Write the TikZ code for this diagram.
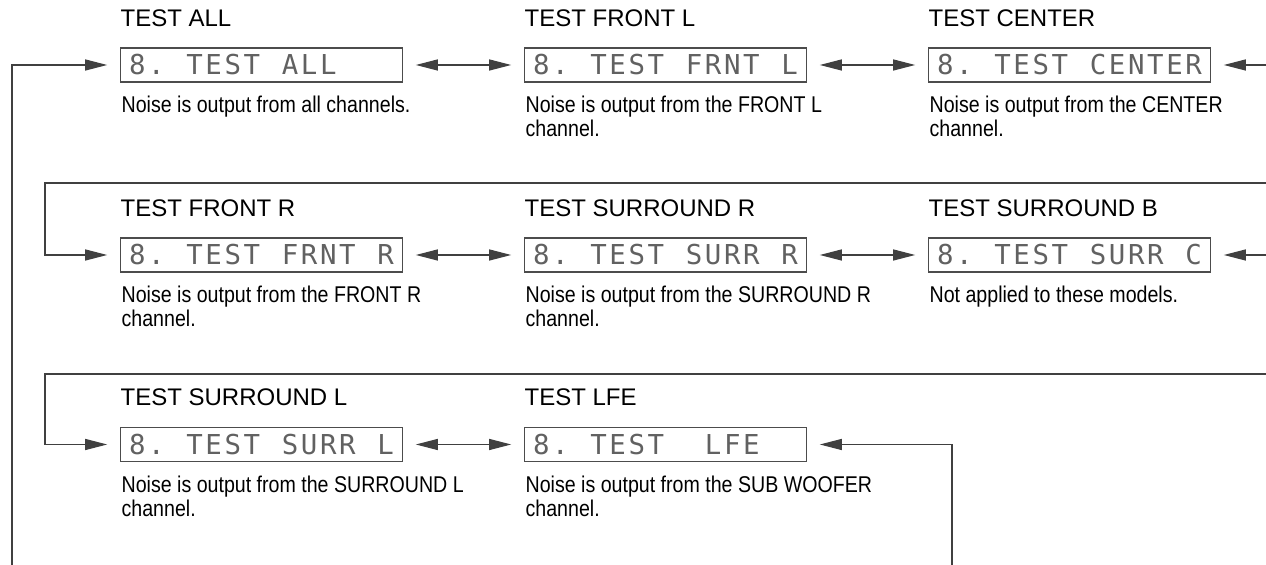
\documentclass[tikz,border=0pt]{standalone}
\usepackage{fontspec}
\setmainfont{Liberation Sans}
\newfontfamily\descfont[FakeStretch=0.86]{Liberation Sans}
\newfontfamily\lcdfont{DejaVu Sans Mono}
\usetikzlibrary{arrows.meta, calc, positioning}

\newlength\lcdpitch
\setlength\lcdpitch{9.55pt}
\makeatletter
\newcommand\lcd[1]{\lcd@next#1\@nil}
\def\lcd@next#1{\ifx#1\@nil\else\makebox[\lcdpitch][c]{\ifx#1*\else#1\fi}\expandafter\lcd@next\fi}
\makeatother

\tikzset{
  lcdbox/.style={draw=black!70, line width=0.6pt, minimum width=140.5pt, minimum height=17pt,
    inner xsep=3.5pt, inner ysep=0pt, text=black!62, font=\lcdfont\fontsize{13.7}{14}\selectfont},
  heading/.style={anchor=base west, inner sep=0pt, font=\fontsize{12}{14}\selectfont},
  note/.style={anchor=north west, inner sep=0pt, align=left, font=\descfont\fontsize{11.4}{12}\selectfont},
  link/.style={draw=black!75, line width=0.6pt, -{Triangle[length=11pt, width=5.5pt]}, shorten >=6.5pt},
  twoway/.style={link, {Triangle[length=11pt, width=5.5pt]}-{Triangle[length=11pt, width=5.5pt]}, shorten <=6.5pt}
}

\begin{document}
\begin{tikzpicture}[x=0.5pt, y=-0.5pt]
\useasboundingbox (0,0) rectangle (1266,565);

% displays
\node (b1)[lcdbox] at (261.5,65) {\lcd{8.*TEST*ALL***}};
\node (b2)[lcdbox] at (665.5,65) {\lcd{8.*TEST*FRNT*L}};
\node (b3)[lcdbox] at (1069.5,65) {\lcd{8.*TEST*CENTER}};
\node (b4)[lcdbox] at (261.5,255) {\lcd{8.*TEST*FRNT*R}};
\node (b5)[lcdbox] at (665.5,255) {\lcd{8.*TEST*SURR*R}};
\node (b6)[lcdbox] at (1069.5,255) {\lcd{8.*TEST*SURR*C}};
\node (b7)[lcdbox] at (261.5,444.5) {\lcd{8.*TEST*SURR*L}};
\node (b8)[lcdbox] at (665.5,444.5) {\lcd{8.*TEST**LFE**}};

% headings
\node (h1)[heading] at ($(b1.north west)+(0,-21)$) {TEST ALL};
\node (h2)[heading] at ($(b2.north west)+(0,-21)$) {TEST FRONT L};
\node (h3)[heading] at ($(b3.north west)+(0,-21)$) {TEST CENTER};
\node (h4)[heading] at ($(b4.north west)+(0,-21)$) {TEST FRONT R};
\node (h5)[heading] at ($(b5.north west)+(0,-21)$) {TEST SURROUND R};
\node (h6)[heading] at ($(b6.north west)+(0,-21)$) {TEST SURROUND B};
\node (h7)[heading] at ($(b7.north west)+(0,-21)$) {TEST SURROUND L};
\node (h8)[heading] at ($(b8.north west)+(0,-21)$) {TEST LFE};

% notes
\node (n1)[note] at ($(b1.south west)+(1,13)$) {Noise is output from all channels.};
\node (n2)[note] at ($(b2.south west)+(1,13)$) {Noise is output from the FRONT L\\channel.};
\node (n3)[note] at ($(b3.south west)+(1,13)$) {Noise is output from the CENTER\\channel.};
\node (n4)[note] at ($(b4.south west)+(1,13)$) {Noise is output from the FRONT R\\channel.};
\node (n5)[note] at ($(b5.south west)+(1,13)$) {Noise is output from the SURROUND R\\channel.};
\node (n6)[note] at ($(b6.south west)+(1,13)$) {Not applied to these models.};
\node (n7)[note] at ($(b7.south west)+(1,13)$) {Noise is output from the SURROUND L\\channel.};
\node (n8)[note] at ($(b8.south west)+(1,13)$) {Noise is output from the SUB WOOFER\\channel.};

\coordinate (r1) at (1266,65);
\coordinate (r2) at (1266,255);
\coordinate (w1) at (1266,183);
\coordinate (w2) at (1266,374);
\coordinate (k1) at (45,183);
\coordinate (k2) at (45,374);
\coordinate (ret1) at (12,565);
\coordinate (ret2) at (952,565);

\draw[twoway] (b1) -- (b2);
\draw[twoway] (b2) -- (b3);
\draw[twoway] (b4) -- (b5);
\draw[twoway] (b5) -- (b6);
\draw[twoway] (b7) -- (b8);

\draw[link] (r1) -- (b3);
\draw[link] (r2) -- (b6);
\draw[link] (w1) -- (k1) |- (b4);
\draw[link] (w2) -- (k2) |- (b7);
\draw[link] (ret1) |- (b1);
\draw[link] (ret2) |- (b8);
\end{tikzpicture}
\end{document}
